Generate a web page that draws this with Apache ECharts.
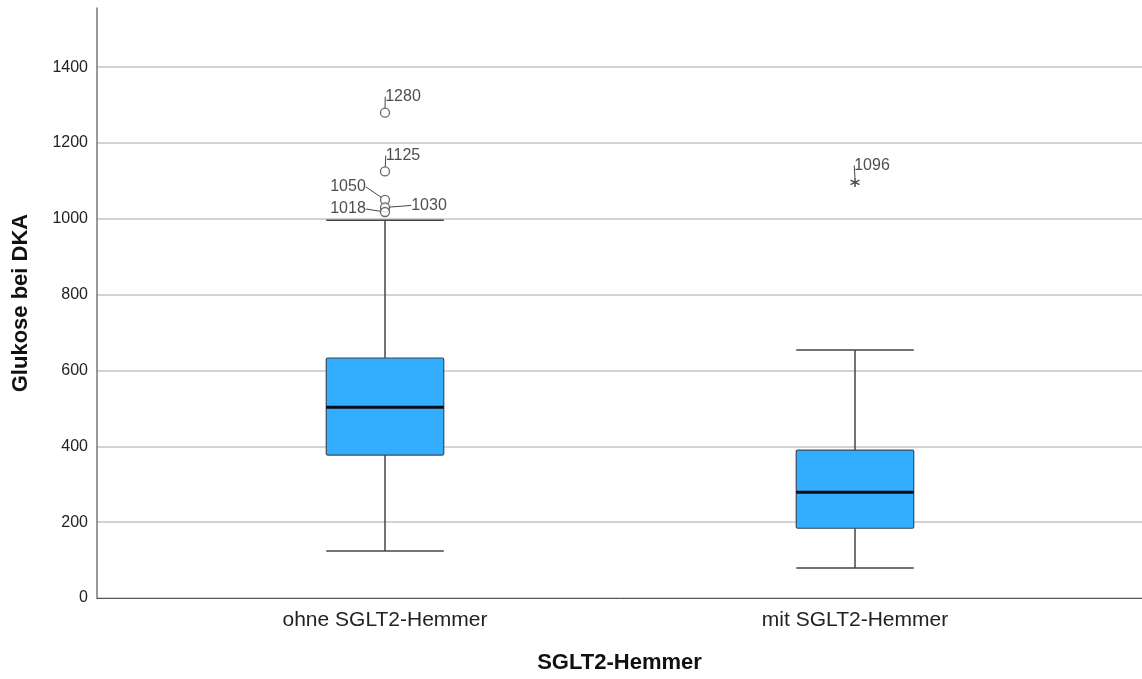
<!DOCTYPE html>
<html><head><meta charset="utf-8">
<script src="https://cdn.jsdelivr.net/npm/echarts@6/dist/echarts.min.js"></script>
<style>html,body{margin:0;padding:0;background:#fff}#c{width:1142px;height:679px}</style>
</head><body><div id="c"></div>
<script>
const categories = ['ohne SGLT2-Hemmer', 'mit SGLT2-Hemmer'];
// [min whisker, Q1, median, Q3, max whisker]
const boxStats = [
  [124, 377, 503, 633, 996],
  [79, 184, 279, 390, 654]
];
// outliers: [category index, value, label]
const outliers = [
  [0, 1280, '1280'],
  [0, 1125, '1125'],
  [0, 1050, '1050'],
  [0, 1030, '1030'],
  [0, 1018, '1018']
];
const extremes = [
  [1, 1096, '1096']
];
const yTicks = [0, 200, 400, 600, 800, 1000, 1200, 1400];
const yMax = 1556;
const labelOffsets = [[18, -16], [18, -16], [-37, -13], [44, -2], [-37, -3]];

const chart = echarts.init(document.getElementById('c'), null, {renderer: 'canvas'});
const font = 'Liberation Sans, Arial, sans-serif';
const option = {
  animation: false,
  grid: [
    {left: 97, right: 0, top: 8, bottom: 81},
    {left: 150, right: 52, top: 8, bottom: 81}
  ],
  xAxis: [
    {type: 'value', gridIndex: 0, min: 0, max: 1, show: true,
     axisLine: {show: true, lineStyle: {color: '#555', width: 1}},
     axisTick: {show: false}, axisLabel: {show: false}, splitLine: {show: false},
     name: 'SGLT2-Hemmer', nameLocation: 'middle', nameGap: 54,
     nameTextStyle: {fontFamily: font, fontSize: 22, fontWeight: 'bold', color: '#111'}},
    {type: 'category', gridIndex: 1, data: categories,
     axisLine: {show: false}, axisTick: {show: false},
     axisLabel: {margin: 12, fontFamily: font, fontSize: 21, color: '#222'}}
  ],
  yAxis: [
    {type: 'value', gridIndex: 0, min: 0, max: yMax, interval: 200,
     axisLine: {show: true, lineStyle: {color: '#777', width: 1.5}},
     axisTick: {show: false},
     axisLabel: {margin: 9, fontFamily: font, fontSize: 16, color: '#222',
       formatter: v => yTicks.includes(v) ? String(v) : ''},
     splitLine: {show: true, lineStyle: {
       color: yTicks.map(() => '#c4c4c4').concat(['rgba(0,0,0,0)']), width: 1.5}},
     name: 'Glukose bei DKA', nameLocation: 'middle', nameGap: 65,
     nameTextStyle: {fontFamily: font, fontSize: 22, fontWeight: 'bold', color: '#111'}},
    {type: 'value', gridIndex: 1, min: 0, max: yMax, show: false}
  ],
  series: [
    {
      type: 'custom', xAxisIndex: 1, yAxisIndex: 1,
      data: boxStats.map((s, i) => [i].concat(s)),
      renderItem: function (params, api) {
        const idx = api.value(0);
        const pMin = api.coord([idx, api.value(1)]);
        const pQ1 = api.coord([idx, api.value(2)]);
        const pMed = api.coord([idx, api.value(3)]);
        const pQ3 = api.coord([idx, api.value(4)]);
        const pMax = api.coord([idx, api.value(5)]);
        const bw = api.size([1, 0])[0] * 0.25;
        const cap = bw / 2;
        const x = pMed[0];
        const lineStyle = {stroke: '#444', lineWidth: 1.5};
        return {
          type: 'group',
          children: [
            {type: 'line', shape: {x1: x, y1: pMax[1], x2: x, y2: pQ3[1]}, style: lineStyle},
            {type: 'line', shape: {x1: x, y1: pQ1[1], x2: x, y2: pMin[1]}, style: lineStyle},
            {type: 'line', shape: {x1: x - cap, y1: pMax[1], x2: x + cap, y2: pMax[1]}, style: lineStyle},
            {type: 'line', shape: {x1: x - cap, y1: pMin[1], x2: x + cap, y2: pMin[1]}, style: lineStyle},
            {type: 'rect', shape: {x: x - bw / 2, y: pQ3[1], width: bw, height: pQ1[1] - pQ3[1], r: 1.5},
             style: {fill: '#33adfd', stroke: '#3a4a5a', lineWidth: 1.2}},
            {type: 'line', shape: {x1: x - bw / 2, y1: pMed[1], x2: x + bw / 2, y2: pMed[1]},
             style: {stroke: '#0a0a14', lineWidth: 3}}
          ]
        };
      }
    },
    {
      type: 'scatter', xAxisIndex: 1, yAxisIndex: 1,
      symbol: 'circle', symbolSize: 9,
      itemStyle: {color: '#fff', borderColor: '#444', borderWidth: 1.3},
      data: outliers.map(o => ({value: [o[0], o[1]], name: o[2]})),
      label: {show: true, formatter: p => p.name, position: 'inside',
        fontFamily: font, fontSize: 16, color: '#222'},
      labelLine: {show: true, lineStyle: {color: '#444', width: 1}, smooth: false},
      labelLayout: function (params) {
        const o = labelOffsets[params.dataIndex];
        return {dx: o[0], dy: o[1]};
      },
      z: 5
    },
    {
      type: 'scatter', xAxisIndex: 1, yAxisIndex: 1,
      symbol: 'path://M0,-5L0,5M-4.33,-2.5L4.33,2.5M-4.33,2.5L4.33,-2.5',
      symbolSize: 9,
      itemStyle: {color: 'none', borderColor: '#222', borderWidth: 1.5},
      data: extremes.map(o => ({value: [o[0], o[1]], name: o[2]})),
      label: {show: true, formatter: p => p.name, position: 'inside',
        fontFamily: font, fontSize: 16, color: '#222'},
      labelLine: {show: true, lineStyle: {color: '#444', width: 1}},
      labelLayout: function () { return {dx: 17, dy: -17}; },
      z: 5
    }
  ]
};
chart.setOption(option);
</script></body></html>
